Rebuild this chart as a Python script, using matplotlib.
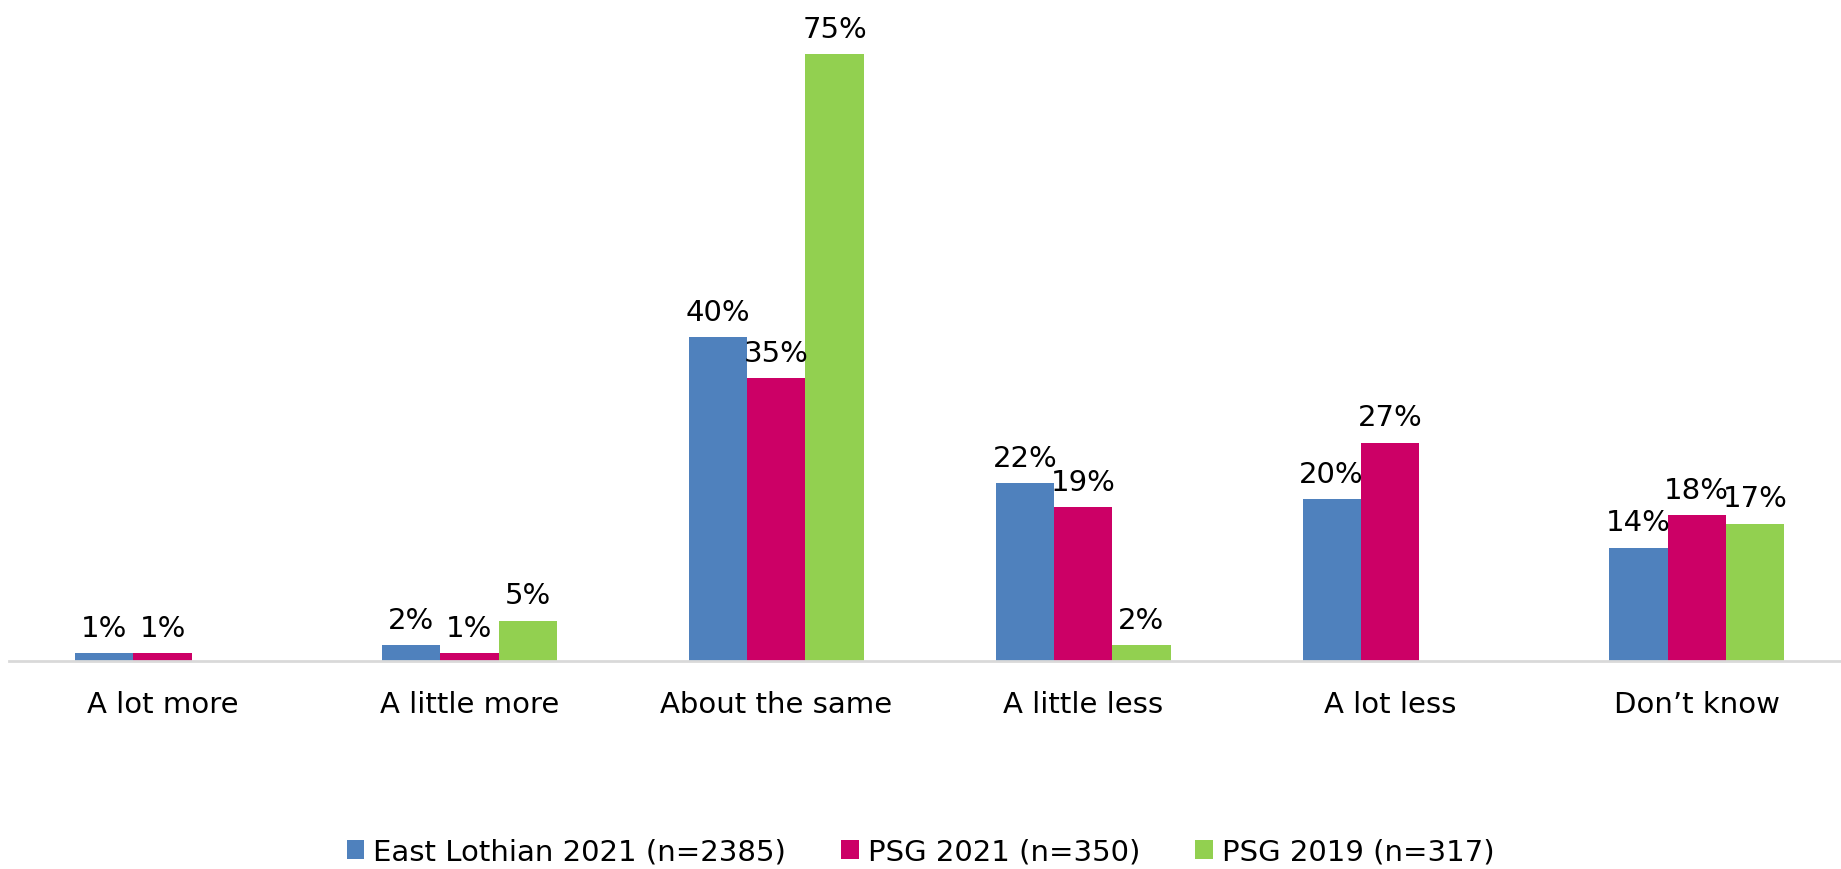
import matplotlib.pyplot as plt
import numpy as np

categories = ["A lot more", "A little more", "About the same", "A little less", "A lot less", "Don\u2019t know"]
series_names = ["East Lothian 2021 (n=2385)", "PSG 2021 (n=350)", "PSG 2019 (n=317)"]
east_lothian_2021 = [1, 2, 40, 22, 20, 14]
psg_2021 = [1, 1, 35, 19, 27, 18]
psg_2019 = [None, 5, 75, 2, None, 17]
colors = ["#4F81BD", "#CC0066", "#92D050"]

plt.rcParams['font.family'] = ['DejaVu Sans']

fig = plt.figure(figsize=(18.41, 8.7), dpi=100)
ax = fig.add_axes([0.005, 0.239, 0.995, 0.745])

x = np.arange(len(categories))
width = 0.19
all_series = [east_lothian_2021, psg_2021, psg_2019]
for i, (vals, name, c) in enumerate(zip(all_series, series_names, colors)):
    pos = x + (i - 1) * width
    for p, v in zip(pos, vals):
        if v is None:
            continue
        ax.bar(p, v, width=width, color=c, label=name if p == pos[1] else None)
        ax.text(p, v + 1.4, f"{v}%", ha='center', va='bottom', fontsize=21)

ax.set_xlim(-0.5, 5.47)
ax.set_ylim(0, 80.1)
ax.set_xticks(x)
ax.set_xticklabels(categories, fontsize=21)
ax.tick_params(axis='x', length=0, pad=21)
ax.set_yticks([])
for s in ['top', 'right', 'left']:
    ax.spines[s].set_visible(False)
ax.spines['bottom'].set_color('#D9D9D9')
ax.spines['bottom'].set_linewidth(2)

handles, labels = ax.get_legend_handles_labels()
fig.legend(handles, labels, loc='center', bbox_to_anchor=(0.5, 0.02), ncol=3,
           frameon=False, fontsize=21, handlelength=0.6, handleheight=0.6,
           handletextpad=0.3, columnspacing=1.9)

fig.savefig("out.png", dpi=100)
